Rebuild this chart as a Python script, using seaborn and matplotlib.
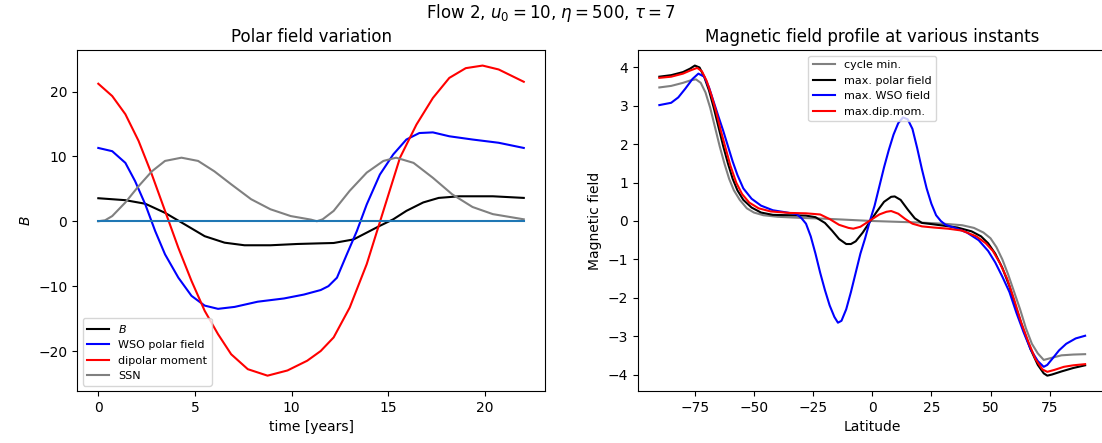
import numpy as np
import pandas as pd
import matplotlib
matplotlib.use("Agg")
import matplotlib.pyplot as plt
import seaborn as sns

# ---------------- left panel: polar field variation ----------------
t_B = [0, 1.4, 2.43, 3.45, 4.48, 5.5, 6.53, 7.56, 8.9, 10.3, 11.5, 12.17, 13.2, 13.88, 14.56, 15.25, 15.93, 16.8, 17.6, 18.66, 20.4, 22]
B = [3.55, 3.25, 2.7, 1.3, -0.5, -2.3, -3.3, -3.7, -3.7, -3.5, -3.4, -3.35, -2.8, -1.75, -0.7, 0.3, 1.6, 2.9, 3.6, 3.85, 3.85, 3.6]

t_wso = [0, 0.72, 1.4, 1.9, 2.43, 2.94, 3.45, 4.14, 4.82, 5.5, 6.19, 7.05, 8.24, 9.6, 10.63, 11.5, 11.9, 12.34, 12.85, 13.37, 13.88, 14.56, 15.25, 15.93, 16.6, 17.3, 18.15, 19.35, 20.7, 22]
wso = [11.3, 10.8, 9.0, 6.2, 2.6, -1.5, -5.1, -8.7, -11.5, -13.0, -13.5, -13.2, -12.4, -11.9, -11.3, -10.6, -10.0, -8.7, -5.1, -1.5, 2.6, 7.2, 10.3, 12.6, 13.6, 13.7, 13.1, 12.6, 12.1, 11.3]

t_dip = [0, 0.72, 1.4, 2.08, 2.77, 3.45, 4.14, 4.82, 5.5, 6.19, 6.87, 7.73, 8.75, 9.78, 10.8, 11.5, 12.17, 13.0, 13.88, 14.74, 15.6, 16.45, 17.3, 18.15, 19.0, 19.87, 20.7, 22]
dip = [21.2, 19.3, 16.5, 12.4, 7.2, 1.6, -4.1, -9.2, -13.8, -17.4, -20.5, -22.8, -23.8, -23.0, -21.5, -20.0, -17.9, -13.3, -6.6, 1.6, 9.8, 14.9, 19.0, 22.1, 23.6, 24.0, 23.4, 21.5]

t_ssn = [0, 0.35, 0.72, 1.4, 2.08, 2.77, 3.45, 4.3, 5.16, 6.0, 6.87, 7.9, 8.9, 9.95, 11.0, 11.3, 11.6, 12.17, 13.0, 13.88, 14.74, 15.4, 16.3, 17.3, 18.3, 19.35, 20.4, 22]
ssn = [0.0, 0.15, 0.8, 2.9, 5.4, 7.7, 9.3, 9.8, 9.3, 7.7, 5.7, 3.4, 1.85, 0.8, 0.25, 0.0, 0.3, 1.6, 4.7, 7.5, 9.3, 9.8, 9.0, 6.7, 4.15, 2.2, 1.1, 0.3]

t_zero = [0, 22]
zero = [0, 0]

# ---------------- right panel: field profiles vs latitude ----------------
lat_min = [-90, -85, -80, -76.5, -74.5, -72.5, -70.5, -68.5, -66.5, -64.5, -62.5, -60.5, -58.5, -56, -53, -50, -46, -40, -30, -20, -10, 0,
           10, 20, 30, 38, 43, 47, 50, 52.5, 55, 57.5, 60, 62.5, 65, 67.5, 70, 72.5, 75, 80, 85, 90]
b_min = [3.48, 3.52, 3.6, 3.67, 3.69, 3.6, 3.35, 2.95, 2.45, 1.95, 1.5, 1.1, 0.8, 0.55, 0.33, 0.22, 0.15, 0.11, 0.08, 0.06, 0.03, 0.0,
         -0.02, -0.04, -0.07, -0.11, -0.18, -0.3, -0.45, -0.68, -1.0, -1.4, -1.85, -2.3, -2.8, -3.2, -3.45, -3.62, -3.58, -3.5, -3.48, -3.47]

lat_pol = [-90, -85, -80, -77, -75, -73, -71, -69, -67, -65, -63, -61, -59, -57, -54.5, -51, -47, -42, -35, -28, -24, -20, -17, -14, -11, -9, -7, -4, -1,
           2, 5, 8, 9.5, 12, 15, 18, 21, 25, 30, 36, 42, 46, 49, 52, 55, 58, 61, 64, 67, 70, 72.5, 74, 76, 80, 85, 90]
b_pol = [3.76, 3.8, 3.88, 3.97, 4.05, 4.0, 3.75, 3.4, 2.95, 2.45, 1.95, 1.5, 1.1, 0.8, 0.55, 0.35, 0.22, 0.16, 0.15, 0.14, 0.1, -0.05, -0.25, -0.47, -0.6, -0.6, -0.53, -0.3, -0.02,
         0.25, 0.5, 0.63, 0.64, 0.55, 0.3, 0.07, -0.05, -0.08, -0.12, -0.17, -0.27, -0.4, -0.58, -0.85, -1.22, -1.7, -2.3, -2.85, -3.35, -3.75, -3.97, -4.03, -4.0, -3.92, -3.83, -3.76]

lat_wso = [-90, -85, -82, -79, -76, -73.5, -71, -69, -67, -65, -63, -61, -59, -57, -54.5, -51, -47, -42, -36, -32, -30, -28, -26, -24, -22, -20, -18, -16, -14.5, -13, -11, -9, -7, -5, -3, -1,
           1, 3, 5, 7, 9, 11, 13, 15, 17, 19, 21, 23, 25, 27, 29, 31, 35, 40, 45, 49, 52, 55, 58, 61, 64, 67, 70, 72.5, 74, 76, 79, 82, 86, 90]
b_wso = [3.02, 3.08, 3.22, 3.45, 3.7, 3.84, 3.76, 3.48, 3.1, 2.72, 2.35, 1.95, 1.55, 1.2, 0.85, 0.58, 0.4, 0.28, 0.22, 0.18, 0.08, -0.07, -0.4, -0.85, -1.35, -1.8, -2.2, -2.5, -2.65, -2.6, -2.3, -1.85, -1.35, -0.85, -0.45, 0.0,
         0.4, 0.9, 1.4, 1.85, 2.25, 2.55, 2.7, 2.65, 2.4, 1.9, 1.35, 0.85, 0.45, 0.15, 0.0, -0.1, -0.18, -0.3, -0.5, -0.78, -1.08, -1.45, -1.85, -2.4, -2.9, -3.35, -3.65, -3.8, -3.75, -3.6, -3.37, -3.2, -3.06, -2.99]

lat_dip = [-90, -85, -80, -77, -74, -72, -70, -68, -66, -64, -62, -60, -57.5, -55, -52, -48, -43, -35, -28, -22, -18, -14, -10, -8, -5, -2,
           0, 3, 6, 8, 11, 14, 17, 21, 26, 32, 38, 44, 48, 51, 54, 57, 60, 63, 66, 69, 72, 74, 77, 81, 85, 90]
b_dip = [3.73, 3.76, 3.84, 3.92, 3.99, 3.9, 3.65, 3.28, 2.85, 2.35, 1.9, 1.45, 1.0, 0.7, 0.48, 0.33, 0.25, 0.21, 0.2, 0.17, 0.05, -0.1, -0.18, -0.2, -0.15, -0.03,
         0.05, 0.17, 0.24, 0.26, 0.19, 0.05, -0.07, -0.14, -0.17, -0.2, -0.25, -0.4, -0.58, -0.78, -1.1, -1.5, -2.05, -2.65, -3.15, -3.6, -3.87, -3.93, -3.88, -3.8, -3.76, -3.73]

fig = plt.figure(figsize=(11.02, 4.43), dpi=100)
ax1 = fig.add_axes([0.0699, 0.117, 0.4247, 0.770])
ax2 = fig.add_axes([0.579, 0.117, 0.425, 0.770])

#------------left------------
sns.lineplot(x=t_B, y=B, ax=ax1, color="black", label="$B$", sort=False, estimator=None)
sns.lineplot(x=t_wso, y=wso, ax=ax1, color="blue", label="WSO polar field", sort=False, estimator=None)
sns.lineplot(x=t_dip, y=dip, ax=ax1, color="red", label="dipolar moment", sort=False, estimator=None)
sns.lineplot(x=t_ssn, y=ssn, ax=ax1, color="gray", label="SSN", sort=False, estimator=None)
sns.lineplot(x=t_zero, y=zero, ax=ax1, color="C0", sort=False, estimator=None)
ax1.set_title("Polar field variation", fontsize=12)
ax1.set_xlabel("time [years]")
ax1.set_ylabel("$B$")
ax1.legend(loc="lower left", fontsize=8)

#------------right-----------
sns.lineplot(x=lat_min, y=b_min, ax=ax2, color="gray", label="cycle min.", sort=False, estimator=None)
sns.lineplot(x=lat_pol, y=b_pol, ax=ax2, color="black", label="max. polar field", sort=False, estimator=None)
sns.lineplot(x=lat_wso, y=b_wso, ax=ax2, color="blue", label="max. WSO field", sort=False, estimator=None)
sns.lineplot(x=lat_dip, y=b_dip, ax=ax2, color="red", label="max.dip.mom.", sort=False, estimator=None)
ax2.set_title("Magnetic field profile at various instants", fontsize=12)
ax2.set_xlabel("Latitude")
ax2.set_ylabel("Magnetic field")
ax2.legend(loc="upper center", fontsize=8)

fig.suptitle(r"Flow 2, $u_0 = 10$, $\eta = 500$, $\tau = 7$", fontsize=12, y=0.995)

plt.savefig("out.png", dpi=100)
